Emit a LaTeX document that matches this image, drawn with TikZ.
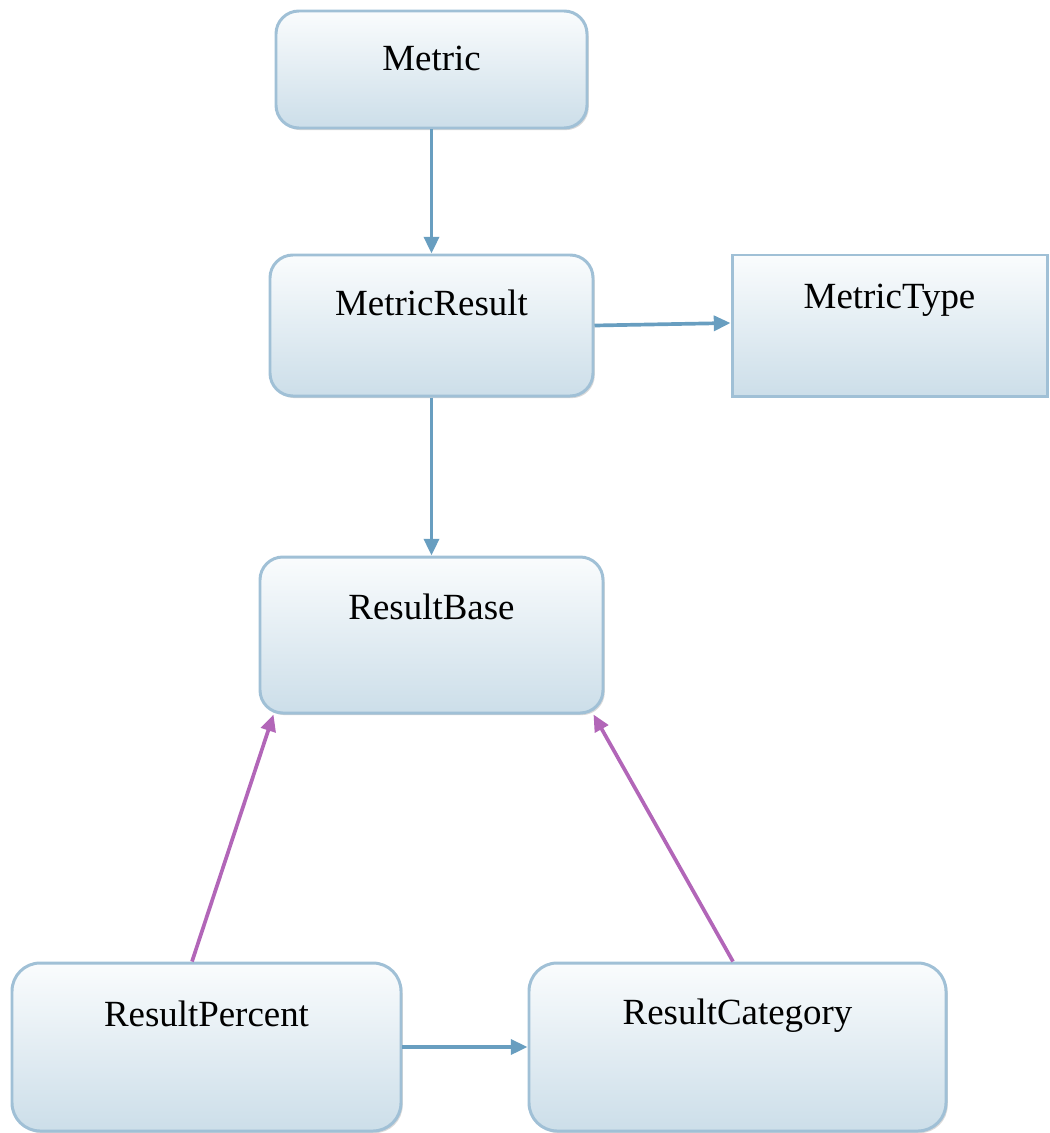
\documentclass[tikz,border=0pt]{standalone}
\usepackage{fontspec}
\setmainfont{Liberation Serif}
\usetikzlibrary{calc,arrows.meta,shadows}

\definecolor{boxedge}{RGB}{160,192,214}
\definecolor{boxtop}{RGB}{250,252,253}
\definecolor{boxbot}{RGB}{204,222,233}
\definecolor{linkblue}{RGB}{104,158,192}
\definecolor{linkpurple}{RGB}{178,102,184}

\tikzset{
  classbox/.style={draw=boxedge, line width=1.7pt, top color=boxtop, bottom color=boxbot,
    rounded corners=13pt, inner sep=0pt,
    drop shadow={shadow xshift=1pt, shadow yshift=-1.2pt, opacity=0.25, fill=black!60}},
  plainbox/.style={classbox, rounded corners=0pt},
  boxtitle/.style={font=\fontsize{21}{25}\selectfont, anchor=center},
  bluelink/.style={draw=linkblue, line width=2.1pt, -{Triangle[length=9.5pt,width=8.5pt]}},
  purplelink/.style={draw=linkpurple, line width=2.1pt, -{Triangle[length=9.5pt,width=8.5pt]}}
}

\begin{document}
\begin{tikzpicture}[x=0.02cm, y=-0.02cm]
  \useasboundingbox (0,0) rectangle (1050,1133);

  % class boxes (pixel grid, y grows downward)
  \node[classbox, minimum width=311*0.02cm, minimum height=117*0.02cm] (metric) at (431.5,69.5) {};
  \node[boxtitle] (metrict) at ($(metric.north)+(0,49)$) {Metric};

  \node[classbox, minimum width=323*0.02cm, minimum height=141*0.02cm] (mres) at (431.5,325.5) {};
  \node[boxtitle] (mrest) at ($(mres.north)+(0,49)$) {MetricResult};

  \node[plainbox, minimum width=315*0.02cm, minimum height=141*0.02cm] (mtype) at (889.5,325.5) {};
  \node[boxtitle] (mtypet) at ($(mtype.north)+(0,47)$) {MetricType};

  \node[classbox, minimum width=343*0.02cm, minimum height=156*0.02cm] (rbase) at (431.5,635) {};
  \node[boxtitle] (rbaset) at ($(rbase.north)+(0,51)$) {ResultBase};

  \node[classbox, rounded corners=16pt, minimum width=389*0.02cm, minimum height=168*0.02cm] (rpct) at (206.5,1047) {};
  \node[boxtitle] (rpctt) at ($(rpct.north)+(0,52)$) {ResultPercent};

  \node[classbox, rounded corners=16pt, minimum width=417*0.02cm, minimum height=168*0.02cm] (rcat) at (737.5,1047) {};
  \node[boxtitle] (rcatt) at ($(rcat.north)+(0,54)$) {ResultCategory};

  % associations
  \draw[bluelink] (metric.south) -- (mres.north);
  \draw[bluelink] (mres.east) -- ($(mtype.west)+(0,-2.5)$);
  \draw[bluelink] (mres.south) -- (rbase.north);
  \draw[bluelink] (rpct.east) -- (rcat.west);

  % inheritance
  \draw[purplelink] ($(rpct.north)+(-14.5,0)$) -- ($(rbase.south west)+(15,0)$);
  \draw[purplelink] ($(rcat.north)+(-4.5,0)$) -- ($(rbase.south east)+(-11,0)$);
\end{tikzpicture}
\end{document}
